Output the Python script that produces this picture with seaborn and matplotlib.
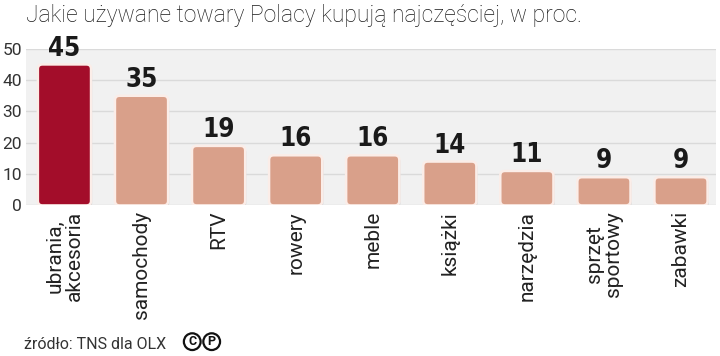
import matplotlib
matplotlib.use("Agg")
import matplotlib.pyplot as plt
import seaborn as sns
import pandas as pd
from matplotlib.patches import FancyBboxPatch

# dane z wykresu
categories = ["ubrania,\nakcesoria", "samochody", "RTV", "rowery", "meble",
              "książki", "narzędzia", "sprzęt\nsportowy", "zabawki"]
values = [45, 35, 19, 16, 16, 14, 11, 9, 9]
yticks = [0, 10, 20, 30, 40, 50]

title = "Jakie używane towary Polacy kupują najczęściej, w proc."
source = "źródło: TNS dla OLX"

DARK = "#A30D2A"
LIGHT = "#D9A08A"

sns.set_theme(style="white")
plt.rcParams["font.family"] = ["Roboto", "DejaVu Sans"]

df = pd.DataFrame({"kategoria": categories, "proc": values})
colors = [DARK] + [LIGHT] * (len(values) - 1)

fig = plt.figure(figsize=(7.2, 3.56), dpi=100)
ax = fig.add_axes([0.036, 0.423, 0.958, 0.44])
ax.set_facecolor("#F1F1F1")

sns.barplot(data=df, x="kategoria", y="proc", hue="kategoria", palette=colors,
            legend=False, width=0.69, ax=ax, zorder=3)

# zaokraglone slupki w miejscu prostokatow
for p, c in zip(list(ax.patches), colors):
    x, y, w, h = p.get_x(), p.get_y(), p.get_width(), p.get_height()
    p.set_visible(False)
    shadow = FancyBboxPatch((x + 0.015, y - 0.6), w, h,
                            boxstyle="round,pad=0,rounding_size=0.06",
                            mutation_aspect=24, facecolor="#BBBBBB", alpha=0.5,
                            edgecolor="none", zorder=2)
    ax.add_patch(shadow)
    box = FancyBboxPatch((x, y), w, h,
                         boxstyle="round,pad=0,rounding_size=0.06",
                         mutation_aspect=24, facecolor=c,
                         edgecolor="#FBEDE8", linewidth=1.8, zorder=3)
    ax.add_patch(box)
    ax.text(x + w / 2, h + 0.9, str(int(h)), ha="center", va="bottom",
            fontsize=18.5, fontweight="bold", fontstretch="condensed",
            family=["DejaVu Sans"], color="#1A1A1A", zorder=4)

ax.set_ylim(0, 50)
ax.set_xlim(-0.5, len(values) - 0.55)
ax.set_yticks(yticks)
ax.set_yticklabels([str(t) for t in yticks], fontsize=12.5, color="#333333")
ax.yaxis.grid(True, color="#DADADA", linewidth=1, zorder=0)
ax.set_axisbelow(True)
ax.tick_params(axis="y", length=0, pad=3)
ax.tick_params(axis="x", length=0, pad=4)
ax.set_xticks(range(len(categories)))
ax.set_xticklabels(categories, rotation=90, fontsize=15, color="#222222",
                   va="top", ha="center", linespacing=1.0)
ax.set_xlabel("")
ax.set_ylabel("")
for s in ax.spines.values():
    s.set_visible(False)

fig.text(0.036, 0.99, title, fontsize=16.5, fontweight="light",
         color="#1A1A1A", ha="left", va="top")
fig.text(0.034, 0.012, source, fontsize=11.5, color="#333333",
         ha="left", va="bottom")
for i, letter in enumerate(["C", "P"]):
    fig.text(0.267 + i * 0.027, 0.022, letter, fontsize=9, fontweight="bold",
             color="#111111", ha="center", va="bottom",
             bbox=dict(boxstyle="circle,pad=0.15", facecolor="white",
                       edgecolor="#111111", linewidth=1.6))

fig.savefig("out.png", dpi=100)
